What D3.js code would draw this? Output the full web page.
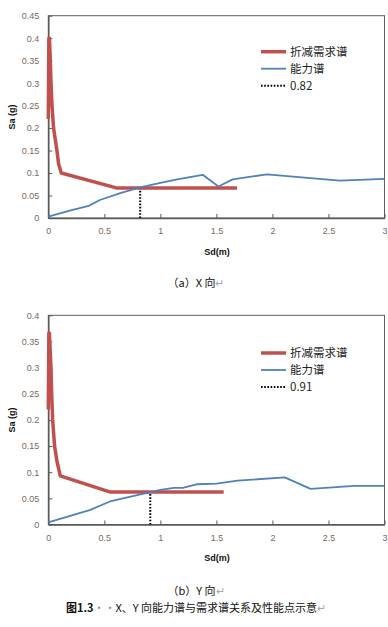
<!DOCTYPE html>
<html lang="zh">
<head>
<meta charset="utf-8">
<script src="https://d3js.org/d3.v7.min.js"></script>
<style>
body { margin: 0; background: #fff; }
svg { display: block; }
.tick text { font-family: "Liberation Sans", Arial, sans-serif; font-size: 9px; fill: #7a6a5c; }
.tick line { stroke: #595959; }
.leg { font-family: "Noto Sans CJK SC", sans-serif; font-size: 11.5px; fill: #222; }
.ttl { font-family: "Liberation Sans", Arial, sans-serif; font-size: 9px; font-weight: bold; fill: #111; }
.cap { font-family: "Noto Sans CJK SC", sans-serif; font-size: 11px; fill: #111; }
</style>
</head>
<body>
<svg id="chart" width="388" height="627"></svg>
<script>
// ticks
var xTicks = [0, 0.5, 1, 1.5, 2, 2.5, 3];
var yTicksX = [0, 0.05, 0.1, 0.15, 0.2, 0.25, 0.3, 0.35, 0.4, 0.45];
var yTicksY = [0, 0.05, 0.1, 0.15, 0.2, 0.25, 0.3, 0.35, 0.4];
var legendNames = ["折减需求谱", "能力谱"];

// (a) X direction - reduced demand spectrum
var demandSdX = [0, 0.005, 0.01, 0.018, 0.024, 0.033, 0.047, 0.077, 0.092, 0.116, 0.607, 1.685];
var demandSaX = [0.22, 0.40, 0.40, 0.35, 0.30, 0.25, 0.20, 0.15, 0.12, 0.10, 0.067, 0.067];
// (a) X direction - capacity spectrum
var capSdX = [0, 0.2, 0.36, 0.46, 0.65, 0.82, 1.0, 1.15, 1.378, 1.518, 1.646, 1.95, 2.6, 3.0];
var capSaX = [0.003, 0.017, 0.027, 0.04, 0.056, 0.068, 0.078, 0.086, 0.096, 0.07, 0.086, 0.097, 0.083, 0.087];
var perfX = 0.82, perfSaX = 0.068;

// (b) Y direction
var demandSdY = [0, 0.005, 0.01, 0.017, 0.024, 0.03, 0.039, 0.056, 0.078, 0.107, 0.554, 1.565];
var demandSaY = [0.22, 0.366, 0.366, 0.33, 0.30, 0.25, 0.20, 0.15, 0.12, 0.093, 0.062, 0.062];
var capSdY = [0, 0.375, 0.55, 0.91, 1.0, 1.12, 1.2, 1.33, 1.5, 1.69, 2.11, 2.34, 2.73, 3.0];
var capSaY = [0.004, 0.028, 0.044, 0.062, 0.066, 0.070, 0.070, 0.077, 0.078, 0.084, 0.090, 0.068, 0.074, 0.074];
var perfY = 0.91, perfSaY = 0.062;

var svg = d3.select("#chart");

function drawPanel(top, bottom, yMax, yTicks, dSd, dSa, cSd, cSa, perf, perfSa, legTop, titleY, sdY) {
  var x = d3.scaleLinear().domain([0, 3]).range([48.3, 384.5]);
  var y = d3.scaleLinear().domain([0, yMax]).range([bottom, top]);
  var g = svg.append("g");

  // plot frame
  g.append("rect")
    .attr("x", x(0)).attr("y", y(yMax))
    .attr("width", x(3) - x(0)).attr("height", y(0) - y(yMax))
    .attr("fill", "none").attr("stroke", "#5e5e5e").attr("stroke-width", 1);

  var xAxis = d3.axisBottom(x).tickValues(xTicks).tickSizeInner(-4).tickSizeOuter(0)
    .tickPadding(10).tickFormat(d3.format("~g"));
  var gx = g.append("g").attr("transform", "translate(0," + y(0) + ")").call(xAxis);
  gx.select(".domain").attr("stroke", "#595959").attr("stroke-width", 1.5);

  var yAxis = d3.axisLeft(y).tickValues(yTicks).tickSizeInner(-4).tickSizeOuter(0)
    .tickPadding(9).tickFormat(d3.format("~g"));
  var gy = g.append("g").attr("transform", "translate(" + x(0) + ",0)").call(yAxis);
  gy.select(".domain").attr("stroke", "#595959").attr("stroke-width", 1.5);

  var line = d3.line().x(function(d) { return x(d[0]); }).y(function(d) { return y(d[1]); });

  // performance point drop line
  g.append("path")
    .datum([[perf, 0], [perf, perfSa]])
    .attr("d", line).attr("fill", "none")
    .attr("stroke", "#000").attr("stroke-width", 2).attr("stroke-dasharray", "1.6,1.6");

  g.append("path")
    .datum(d3.zip(dSd, dSa))
    .attr("d", line).attr("fill", "none")
    .attr("stroke", "#c0504d").attr("stroke-width", 3.5).attr("stroke-linejoin", "round");

  g.append("path")
    .datum(d3.zip(cSd, cSa))
    .attr("d", line).attr("fill", "none")
    .attr("stroke", "#4f81bd").attr("stroke-width", 1.8).attr("stroke-linejoin", "round");

  // legend
  var legs = [
    {name: legendNames[0], color: "#c0504d", w: 3.5, dash: null},
    {name: legendNames[1], color: "#4f81bd", w: 1.8, dash: null},
    {name: d3.format(".2f")(perf), color: "#000", w: 2, dash: "1.6,1.6"}
  ];
  legs.forEach(function(l, i) {
    var ly = legTop + i * 17;
    g.append("line").attr("x1", 261).attr("x2", 286).attr("y1", ly).attr("y2", ly)
      .attr("stroke", l.color).attr("stroke-width", l.w)
      .attr("stroke-dasharray", l.dash);
    g.append("text").attr("class", "leg").attr("x", 290).attr("y", ly + 4).text(l.name);
  });

  // axis titles
  g.append("text").attr("class", "ttl")
    .attr("transform", "translate(15," + titleY + ") rotate(-90)")
    .attr("text-anchor", "middle").text("Sa (g)");
  g.append("text").attr("class", "ttl")
    .attr("x", 217).attr("y", sdY).attr("text-anchor", "middle").text("Sd(m)");
}

drawPanel(15.7, 218, 0.45, yTicksX, demandSdX, demandSaX, capSdX, capSaX, perfX, perfSaX, 51.7, 117, 255);
drawPanel(315.3, 524.5, 0.4, yTicksY, demandSdY, demandSaY, capSdY, capSaY, perfY, perfSaY, 353, 420, 561);

// captions
function caption(cx, cy, parts) {
  var t = svg.append("text").attr("class", "cap").attr("x", cx).attr("y", cy).attr("text-anchor", "middle");
  parts.forEach(function(p) {
    var s = t.append("tspan").text(p[0]);
    if (p[1]) s.attr("font-weight", "bold");
    if (p[2]) s.attr("fill", p[2]);
  });
}
caption(196, 287, [["（a）X 向"], ["↵", false, "#aaa"]]);
caption(196, 595, [["（b）Y 向"], ["↵", false, "#aaa"]]);
caption(196, 612, [["图", true], ["1.3", true], ["··", false, "#888"], ["X、Y 向能力谱与需求谱关系及性能点示意"], ["↵", false, "#aaa"]]);
</script>
</body>
</html>
